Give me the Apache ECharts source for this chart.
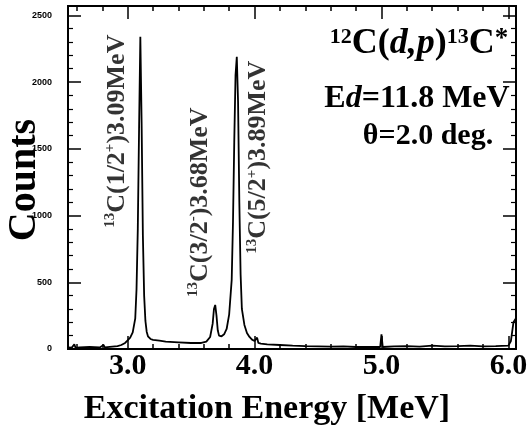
<!DOCTYPE html>
<html>
<head>
<meta charset="utf-8">
<script src="https://cdn.jsdelivr.net/npm/echarts@6/dist/echarts.min.js"></script>
<style>
  html, body { margin: 0; padding: 0; background: #fff; }
  #main { width: 528px; height: 428px; }
</style>
</head>
<body>
<div id="main"></div>
<script>
// spectrum (MeV, counts)
const energy = [
  2.53, 2.56, 2.58, 2.59, 2.62, 2.70, 2.78, 2.81, 2.82, 2.88, 2.92, 2.95, 2.98,
  3.00, 3.02, 3.04, 3.06, 3.07, 3.08, 3.09, 3.10, 3.11, 3.12, 3.13, 3.14, 3.15,
  3.16, 3.18, 3.20, 3.25, 3.30, 3.40, 3.50, 3.58, 3.62, 3.65, 3.67, 3.68, 3.69,
  3.70, 3.71, 3.72, 3.74, 3.76, 3.78, 3.80, 3.82, 3.83, 3.84, 3.85, 3.86, 3.87,
  3.88, 3.89, 3.90, 3.92, 3.94, 3.96, 3.98, 4.00, 4.02, 4.03, 4.05, 4.10, 4.20,
  4.30, 4.40, 4.50, 4.60, 4.70, 4.80, 4.90, 4.99, 5.00, 5.01, 5.10, 5.20, 5.30,
  5.40, 5.50, 5.60, 5.70, 5.80, 5.90, 6.00, 6.02, 6.04, 6.06
];
const counts = [
  12, 10, 35, 8, 12, 15, 12, 30, 12, 18, 22, 30, 45,
  65, 85, 125, 230, 450, 900, 1650, 2340, 1700, 850, 400, 210, 130,
  95, 75, 68, 62, 55, 50, 45, 45, 55, 90, 190, 300, 330,
  250, 140, 100, 95, 110, 150, 260, 520, 950, 1550, 2050, 2190, 1850,
  1100, 560, 300, 180, 120, 90, 70, 60, 85, 45, 40, 35, 30,
  25, 22, 20, 18, 20, 15, 15, 15, 110, 15, 20, 22, 18,
  25, 20, 22, 25, 20, 22, 25, 60, 200, 230
];

// peak annotations, anchored in (MeV, counts)
const peakLabels = [
  '{s|13}{m|C(1/2}{s|+}{m|)3.09MeV}',
  '{s|13}{m|C(3/2}{s|-}{m|)3.68MeV}',
  '{s|13}{m|C(5/2}{s|+}{m|)3.89MeV}'
];
const labelEnergy = [2.916, 3.569, 4.033];
const labelCounts = [1632, 1100, 1437];

const majorX = [3, 4, 5, 6];
const minorX = [2.6, 2.8, 3.2, 3.4, 3.6, 3.8, 4.2, 4.4, 4.6, 4.8, 5.2, 5.4, 5.6, 5.8];

const serif = '"Liberation Serif", "Times New Roman", serif';

// one axis per side for the big ticks, a second one for the small ticks
function xAxisDef(pos, ticks, len, withLabels) {
  return {
    type: 'value', position: pos, min: 2.53, max: 6.06,
    axisLine: { show: true, onZero: false, lineStyle: { color: '#000', width: 2 } },
    splitLine: { show: false },
    axisTick: { show: true, inside: true, length: len, customValues: ticks,
      lineStyle: { color: '#000', width: 1.5 } },
    axisLabel: withLabels ? {
      show: true, customValues: majorX, margin: 2,
      fontFamily: serif, fontWeight: 'bold', fontSize: 30, color: '#000',
      formatter: v => v.toFixed(1)
    } : { show: false }
  };
}

function yAxisDef(pos, withLabels) {
  return {
    type: 'value', position: pos, min: 0, max: 2570, interval: 500,
    axisLine: { show: true, onZero: false, lineStyle: { color: '#000', width: 2 } },
    splitLine: { show: false },
    axisTick: { show: true, inside: true, length: 13, lineStyle: { color: '#000', width: 1.5 } },
    minorTick: { show: true, splitNumber: 5, length: 5, lineStyle: { color: '#000', width: 1.2 } },
    axisLabel: withLabels ? {
      show: true, margin: 16, fontFamily: 'Arial, sans-serif', fontWeight: 'bold',
      fontSize: 9, color: '#000', showMaxLabel: false, formatter: v => String(v)
    } : { show: false }
  };
}

const chart = echarts.init(document.getElementById('main'));

chart.setOption({
  backgroundColor: '#fff',
  animation: false,
  grid: { left: 68, right: 12, top: 6, bottom: 79, outerBoundsMode: 'none' },
  xAxis: [
    xAxisDef('bottom', majorX, 13, true),
    xAxisDef('bottom', minorX, 5, false),
    xAxisDef('top', majorX, 13, false),
    xAxisDef('top', minorX, 5, false)
  ],
  yAxis: [yAxisDef('left', true), yAxisDef('right', false)],
  graphic: [
    {
      type: 'text', x: 267, y: 409,
      style: {
        text: 'Excitation Energy [MeV]', align: 'center', verticalAlign: 'middle',
        fontFamily: serif, fontWeight: 'bold', fontSize: 34, fill: '#000'
      }
    },
    {
      type: 'text', x: 25, y: 180, rotation: Math.PI / 2,
      style: {
        text: 'Counts', align: 'center', verticalAlign: 'middle',
        fontFamily: serif, fontWeight: 'bold', fontSize: 40, fill: '#000'
      }
    },
    {
      type: 'text', x: 419, y: 44,
      style: {
        text: '{s|12}{b|C(}{i|d,p}{b|)}{s|13}{b|C}{a|*}',
        align: 'center', verticalAlign: 'middle',
        rich: {
          b: { fontFamily: serif, fontWeight: 'bold', fontSize: 36, fill: '#000' },
          i: { fontFamily: serif, fontWeight: 'bold', fontStyle: 'italic', fontSize: 36, fill: '#000' },
          s: { fontFamily: serif, fontWeight: 'bold', fontSize: 22, fill: '#000', verticalAlign: 'top' },
          a: { fontFamily: serif, fontWeight: 'bold', fontSize: 27, fill: '#000', verticalAlign: 'top' }
        }
      }
    },
    {
      type: 'text', x: 417, y: 99,
      style: {
        text: '{b|E}{i|d}{b|=11.8 MeV}',
        align: 'center', verticalAlign: 'middle',
        rich: {
          b: { fontFamily: serif, fontWeight: 'bold', fontSize: 32, fill: '#000' },
          i: { fontFamily: serif, fontWeight: 'bold', fontStyle: 'italic', fontSize: 32, fill: '#000' }
        }
      }
    },
    {
      type: 'text', x: 428, y: 136,
      style: {
        text: 'θ=2.0 deg.',
        align: 'center', verticalAlign: 'middle',
        fontFamily: serif, fontWeight: 'bold', fontSize: 30, fill: '#000'
      }
    }
  ],
  series: [
    {
      type: 'line',
      data: energy.map((e, i) => [e, counts[i]]),
      symbol: 'none',
      lineStyle: { color: '#000', width: 1.8 }
    },
    {
      type: 'scatter',
      symbolSize: 0,
      silent: true,
      data: labelEnergy.map((e, i) => ({
        value: [e, labelCounts[i]],
        label: { formatter: peakLabels[i] }
      })),
      label: {
        show: true, position: 'inside', rotate: 90,
        align: 'center', verticalAlign: 'middle',
        rich: {
          m: { fontFamily: serif, fontWeight: 'bold', fontSize: 26, color: '#000', lineHeight: 28 },
          s: { fontFamily: serif, fontWeight: 'bold', fontSize: 15, color: '#000', verticalAlign: 'top' }
        }
      }
    }
  ]
});
</script>
</body>
</html>
